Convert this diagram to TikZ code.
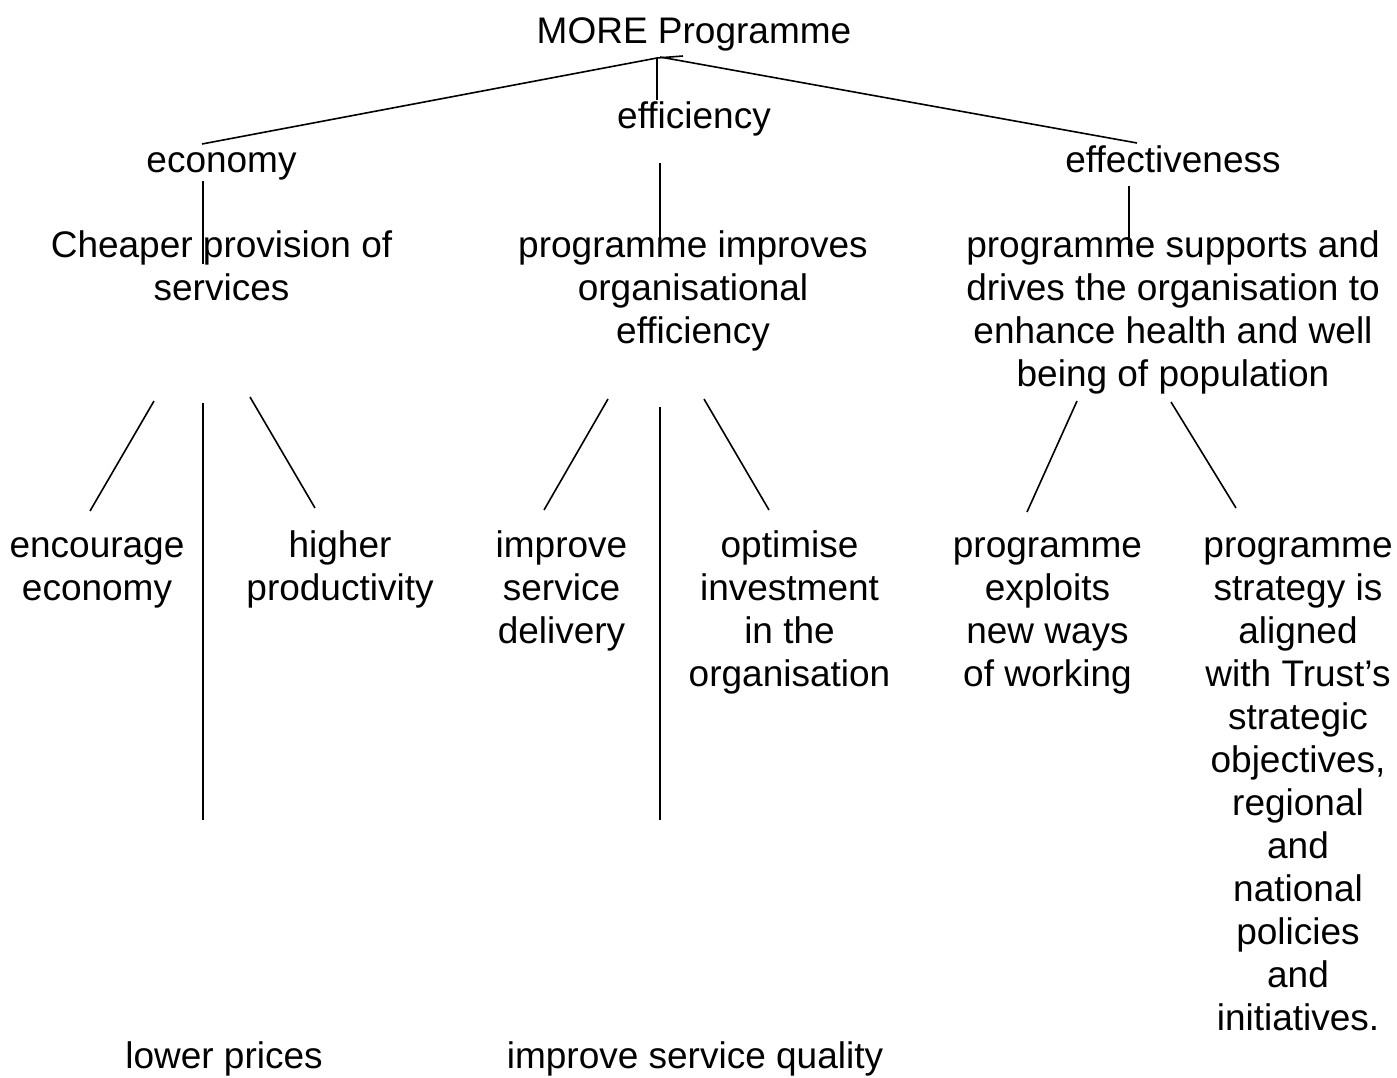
\documentclass[tikz,border=0pt]{standalone}
\usepackage{fontspec}
\setmainfont{Liberation Sans}
\begin{document}
\begin{tikzpicture}[x=1pt,y=-1pt,
  lbl/.style={anchor=base, align=center, inner sep=0pt, font=\fontsize{37}{43}\selectfont},
  link/.style={line width=1.6pt, line cap=butt}]
\useasboundingbox (0,0) rectangle (1397,1077);

% --- labels (each placed at the baseline of its last line) ---
\node[lbl] (more) at (694,43) {MORE Programme};
\node[lbl] (eff) at (694,128) {efficiency};
\node[lbl] (econ) at (221.5,172) {economy};
\node[lbl] (effect) at (1173,172) {effectiveness};
\node[lbl] (cheap) at (221.5,300) {Cheaper provision of\\services};
\node[lbl] (improves) at (693,343) {programme improves\\organisational\\efficiency};
\node[lbl] (supports) at (1173,386) {programme supports and\\drives the organisation to\\enhance health and well\\being of population};
\node[lbl] (encourage) at (97,600) {encourage\\economy};
\node[lbl] (higher) at (340,600) {higher\\productivity};
\node[lbl] (delivery) at (561.5,643) {improve\\service\\delivery};
\node[lbl] (optimise) at (789.5,686) {optimise\\investment\\in the\\organisation};
\node[lbl] (exploits) at (1047.5,686) {programme\\exploits\\new ways\\of working};
\node[lbl] (strategy) at (1298,1030) {programme\\strategy is\\aligned\\with Trust’s\\strategic\\objectives,\\regional\\and\\national\\policies\\and\\initiatives.};
\node[lbl] (prices) at (224,1068) {lower prices};
\node[lbl] (quality) at (695,1068) {improve service quality};

% --- connector end points ---
\coordinate (apex) at (657,58);
\coordinate (apexR) at (660,57);
\coordinate (apexT) at (683,56);
\coordinate (effTop) at (657,100);
\coordinate (econTop) at (202,144);
\coordinate (effectTop) at (1137,143);

\coordinate (econBot) at (203,181);
\coordinate (cheapTop) at (203,264);
\coordinate (effBot) at (660,163);
\coordinate (improvesTop) at (660,241);
\coordinate (effectBot) at (1129,186);
\coordinate (supportsTop) at (1129,255);

\coordinate (cheapL) at (154,401);
\coordinate (encourageTop) at (90,511);
\coordinate (cheapM) at (203,403);
\coordinate (pricesTop) at (203,820);
\coordinate (cheapR) at (250,397);
\coordinate (higherTop) at (315,508);

\coordinate (improvesL) at (608,399);
\coordinate (deliveryTop) at (544,510);
\coordinate (improvesM) at (660,407);
\coordinate (qualityTop) at (660,820);
\coordinate (improvesR) at (704,399);
\coordinate (optimiseTop) at (769,510);

\coordinate (supportsL) at (1077,401);
\coordinate (exploitsTop) at (1027,512);
\coordinate (supportsR) at (1171,402);
\coordinate (strategyTop) at (1236,508);

% --- connectors ---
\draw[link] (econTop) -- (apex);
\draw[link] (apex) -- (effTop);
\draw[link] (apex) -- (apexT);
\draw[link] (apexR) -- (effectTop);

\draw[link] (econBot) -- (cheapTop);
\draw[link] (effBot) -- (improvesTop);
\draw[link] (effectBot) -- (supportsTop);

\draw[link] (cheapL) -- (encourageTop);
\draw[link] (cheapM) -- (pricesTop);
\draw[link] (cheapR) -- (higherTop);

\draw[link] (improvesL) -- (deliveryTop);
\draw[link] (improvesM) -- (qualityTop);
\draw[link] (improvesR) -- (optimiseTop);

\draw[link] (supportsL) -- (exploitsTop);
\draw[link] (supportsR) -- (strategyTop);
\end{tikzpicture}
\end{document}
